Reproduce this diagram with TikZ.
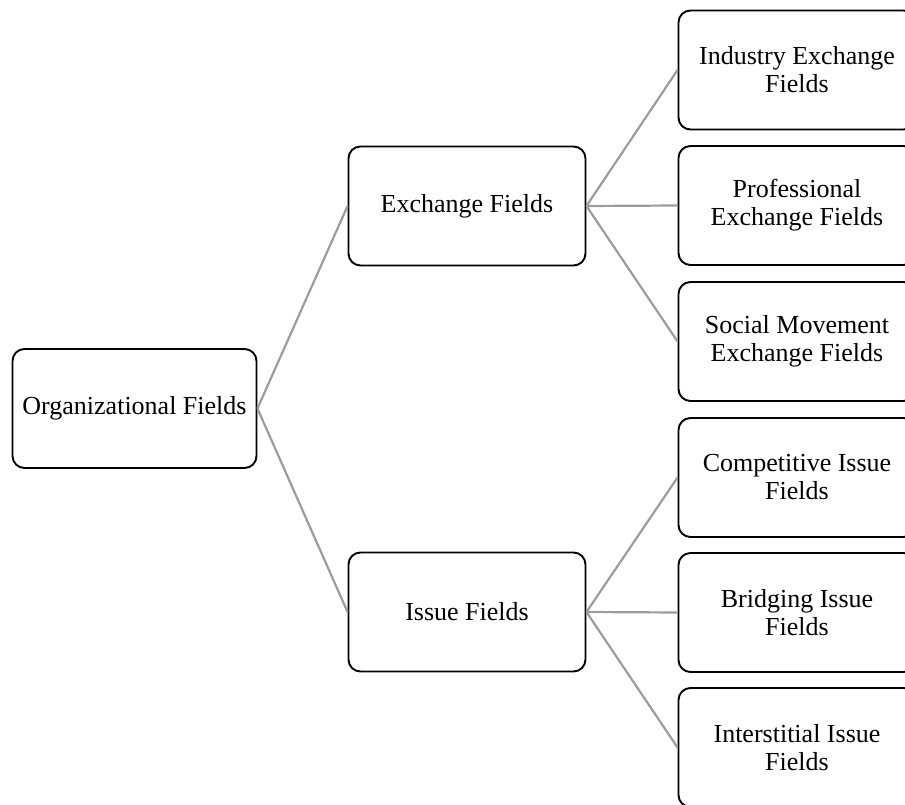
\documentclass[tikz,border=0pt]{standalone}
\usepackage{fontspec}
\setmainfont{Liberation Serif}
\definecolor{linkgray}{HTML}{9C9C9C}
\begin{document}
\begin{tikzpicture}[x=1pt,y=-1pt,
  box/.style={draw=black, line width=1.9pt, rounded corners=12pt, fill=white,
    minimum width=237pt, minimum height=119pt, align=center,
    font=\fontsize{26}{28}\selectfont, inner sep=0pt},
  link/.style={draw=linkgray, line width=2.2pt}]
  \useasboundingbox (0,0) rectangle (905,805);
  \clip (0,0) rectangle (905,805);
  % hierarchy levels
  \node[box, minimum width=244pt] (root) at (134.5,408.5) {Organizational Fields};
  \node[box] (ex) at (467,206) {Exchange Fields};
  \node[box] (is) at (467,612) {Issue Fields};
  \node[box] (ind) at (797,70) {Industry Exchange\\Fields};
  \node[box] (pro) at (797,205.5) {Professional\\Exchange Fields};
  \node[box] (soc) at (797,341.5) {Social Movement\\Exchange Fields};
  \node[box] (com) at (797,477.5) {Competitive Issue\\Fields};
  \node[box] (bri) at (797,612.5) {Bridging Issue\\Fields};
  \node[box] (int) at (797,747.5) {Interstitial Issue\\Fields};
  % connectors
  \path[link] (root.east) -- (ex.west);
  \path[link] (root.east) -- (is.west);
  \path[link] (ex.east) -- (ind.west);
  \path[link] (ex.east) -- (pro.west);
  \path[link] (ex.east) -- (soc.west);
  \path[link] (is.east) -- (com.west);
  \path[link] (is.east) -- (bri.west);
  \path[link] (is.east) -- (int.west);
\end{tikzpicture}
\end{document}
